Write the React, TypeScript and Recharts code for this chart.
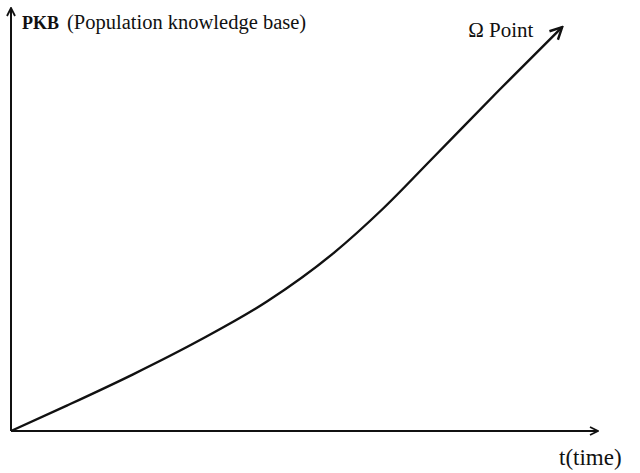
import { LineChart, Line, XAxis, YAxis } from 'recharts';

// (x: time, y: PKB), domain 0-100 on both axes
const time = [0, 9.5, 20.8, 32.2, 43.6, 54.9, 63.4, 71.9, 83.3, 93.9];
const pkb = [0, 6.0, 13.4, 21.5, 30.6, 42.0, 52.6, 64.6, 80.8, 95.5];

const yTitle = 'PKB(Population knowledge base)';
const xTitle = 't(time)';
const endLabel = 'Ω Point';

const data = time.map((t, i) => ({ t, pkb: pkb[i] }));

const FONT = '"Liberation Serif", "DejaVu Serif", "Times New Roman", serif';
const INK = '#111';

export default function App() {
  return (
    <div style={{ position: 'absolute', left: 0, top: 0, background: '#fff' }}>
      <LineChart width={640} height={473} data={data} margin={{ top: 8, right: 42, bottom: 41, left: 10 }}>
        <defs>
          <marker id="arrow" viewBox="0 0 10 10" refX="9" refY="5" markerWidth="10" markerHeight="10"
            markerUnits="userSpaceOnUse" orient="auto-start-reverse">
            <path d="M1,1 L9,5 L1,9" fill="none" stroke={INK} strokeWidth={1.8} />
          </marker>
          <marker id="arrowBig" viewBox="0 0 16 16" refX="14" refY="8" markerWidth="16" markerHeight="16"
            markerUnits="userSpaceOnUse" orient="auto">
            <path d="M2,2 L14,8 L2,14" fill="none" stroke={INK} strokeWidth={2.4} />
          </marker>
        </defs>
        <XAxis
          type="number"
          dataKey="t"
          domain={[0, 100]}
          height={1}
          tick={false}
          tickLine={false}
          axisLine={{ stroke: INK, strokeWidth: 2, markerEnd: 'url(#arrow)' }}
          label={({ viewBox }: any) => (
            <text x={viewBox.x + viewBox.width - 39} y={viewBox.y + 34} style={{ fontFamily: FONT }} fontSize={23} fill={INK}>
              {xTitle}
            </text>
          )}
        />
        <YAxis
          type="number"
          domain={[0, 100]}
          width={1}
          tick={false}
          tickLine={false}
          axisLine={{ stroke: INK, strokeWidth: 2, markerStart: 'url(#arrow)' }}
          label={({ viewBox }: any) => (
            <text x={viewBox.x + 12} y={viewBox.y + 21} style={{ fontFamily: FONT }} fontSize={20.5} fill={INK}>
              <tspan fontSize={18} fontWeight="bold">PKB</tspan>
              <tspan dx={8}>{yTitle.slice(3)}</tspan>
            </text>
          )}
        />
        <Line
          type="monotone"
          dataKey="pkb"
          stroke={INK}
          strokeWidth={2.4}
          dot={false}
          isAnimationActive={false}
          markerEnd="url(#arrowBig)"
          label={({ index, x, y }: any) =>
            index === time.length - 1 ? (
              <text key="end" x={x - 94} y={y + 10} style={{ fontFamily: FONT }} fontSize={21} fill={INK}>
                {endLabel}
              </text>
            ) : null
          }
        />
      </LineChart>
    </div>
  );
}
